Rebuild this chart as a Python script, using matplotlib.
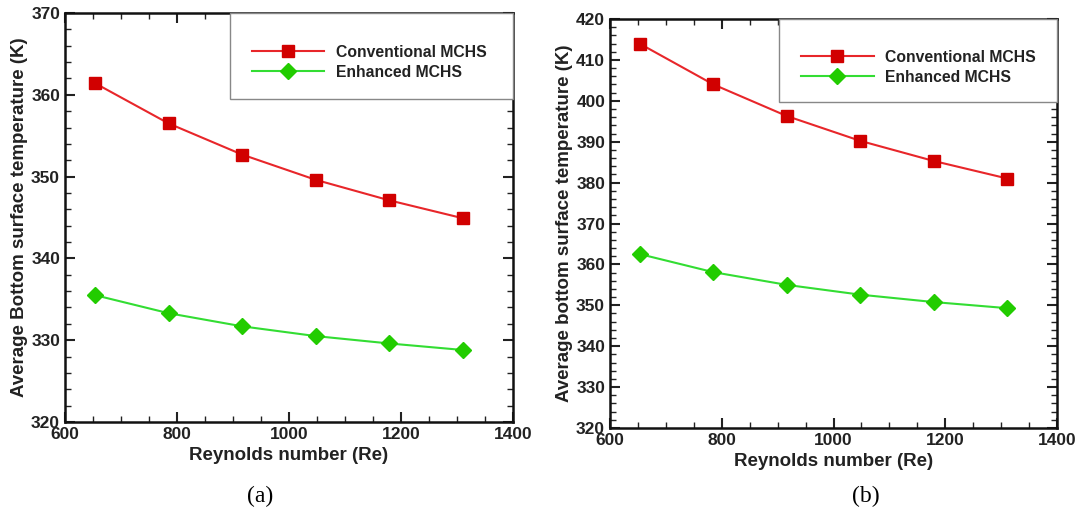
import matplotlib
matplotlib.use("Agg")
import matplotlib.pyplot as plt
from matplotlib.patches import Rectangle
from matplotlib.ticker import MultipleLocator

# ---- data ----
re_a = [654, 785, 916, 1048, 1179, 1311]
conv_a = [361.4, 356.5, 352.7, 349.6, 347.1, 344.9]
enh_a = [335.5, 333.3, 331.7, 330.5, 329.6, 328.8]

re_b = [654, 785, 916, 1048, 1179, 1311]
conv_b = [413.9, 404.0, 396.3, 390.2, 385.3, 381.0]
enh_b = [362.5, 358.1, 355.0, 352.6, 350.8, 349.3]

series_labels = ["Conventional MCHS", "Enhanced MCHS"]
ylabels = ["Average Bottom surface temperature (K)",
           "Average bottom surface temperature (K)"]
xlabel = "Reynolds number (Re)"
captions = ["(a)", "(b)"]

plt.rcParams['font.family'] = ['Liberation Sans', 'DejaVu Sans']

W, H = 1077, 512
fig = plt.figure(figsize=(W / 100, H / 100), dpi=100)

def px_axes(x0, y0, x1, y1):
    return fig.add_axes([x0 / W, 1 - y1 / H, (x1 - x0) / W, (y1 - y0) / H])

ax_a = px_axes(65, 13, 513, 422)
ax_b = px_axes(610, 19, 1057, 428)

panels = [
    (ax_a, re_a, conv_a, enh_a, (320, 370), (0.368, 0.790), 0.922, ylabels[0], captions[0], (260, 496)),
    (ax_b, re_b, conv_b, enh_b, (320, 420), (0.378, 0.797), 0.925, ylabels[1], captions[1], (866, 496)),
]

red_line = "#e8262a"
red_mk = "#d10000"
green_line = "#33dd33"
green_mk = "#22cc00"

for ax, x, c, e, ylim, legxy, legtop, ylab, cap, cappos in panels:
    ax.plot(x, c, color=red_line, lw=1.5, marker='s', ms=9,
            mfc=red_mk, mec=red_mk, label=series_labels[0], zorder=3)
    ax.plot(x, e, color=green_line, lw=1.5, marker='D', ms=8.5,
            mfc=green_mk, mec=green_mk, label=series_labels[1], zorder=3)
    ax.set_xlim(600, 1400)
    ax.set_ylim(*ylim)
    ax.xaxis.set_major_locator(MultipleLocator(200))
    ax.xaxis.set_minor_locator(MultipleLocator(50))
    ax.yaxis.set_major_locator(MultipleLocator(10))
    ax.yaxis.set_minor_locator(MultipleLocator(2))
    ax.tick_params(which='both', direction='in', top=True, right=True,
                   color='#222222')
    ax.tick_params(which='major', length=7, width=1.5, labelsize=12.5, pad=3.5)
    ax.tick_params(which='minor', length=4, width=1.0)
    for lab in ax.get_xticklabels() + ax.get_yticklabels():
        lab.set_fontweight('bold')
        lab.set_color('#222222')
    for sp in ax.spines.values():
        sp.set_linewidth(1.8)
        sp.set_color('#111111')
    ax.set_xlabel(xlabel, fontsize=13.5, fontweight='bold', color='#222222', labelpad=3.5)
    ax.set_ylabel(ylab, fontsize=13.5, fontweight='bold', color='#222222', labelpad=2)

    # legend frame
    lx, ly = legxy
    ax.add_patch(Rectangle((lx, ly), 1 - lx, 1 - ly, transform=ax.transAxes,
                           facecolor='white', edgecolor='#888888', lw=1.0,
                           zorder=4, clip_on=False))
    leg = ax.legend(loc='upper left', bbox_to_anchor=(lx + 0.05, legtop),
                    frameon=False, handlelength=4.6,
                    handletextpad=0.75, labelspacing=0.32, borderaxespad=0,
                    borderpad=0, prop={'weight': 'bold', 'size': 11.3})
    leg.set_zorder(5)
    for t in leg.get_texts():
        t.set_color('#222222')

    # caption
    fig.text(cappos[0] / W, 1 - cappos[1] / H, cap, ha='center', va='center',
             fontsize=17, family=['Liberation Serif', 'DejaVu Serif'])

fig.savefig("out.png", dpi=100)
